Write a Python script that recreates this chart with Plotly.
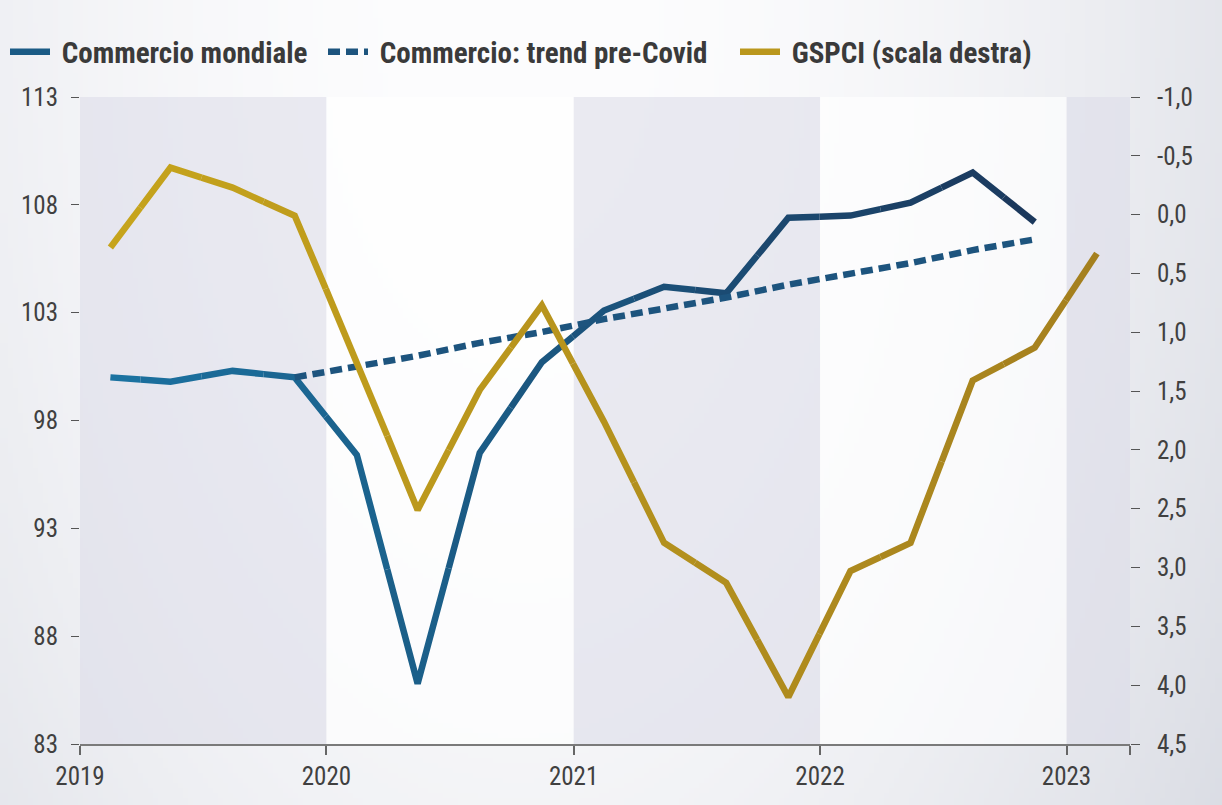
import base64
import struct
import zlib

import numpy as np
import pandas as pd
import plotly.graph_objects as go

# ---------------------------------------------------------------- data
quarters = ["2019-02-15", "2019-05-15", "2019-08-15", "2019-11-15",
            "2020-02-15", "2020-05-15", "2020-08-15", "2020-11-15",
            "2021-02-15", "2021-05-15", "2021-08-15", "2021-11-15",
            "2022-02-15", "2022-05-15", "2022-08-15", "2022-11-15",
            "2023-02-15"]

commercio_mondiale = [100.0, 99.8, 100.3, 100.0, 96.4, 85.8, 96.5, 100.7,
                      103.1, 104.2, 103.9, 107.4, 107.5, 108.1, 109.5, 107.2]

trend_dates = quarters[3:16]
trend_pre_covid = [100.0, 100.5, 101.0, 101.6, 102.1, 102.7, 103.2,
                   103.7, 104.3, 104.8, 105.3, 105.9, 106.4]

gspci = [0.28, -0.40, -0.23, 0.01, 1.25, 2.51, 1.49, 0.77, 1.76,
         2.79, 3.13, 4.10, 3.03, 2.79, 1.41, 1.13, 0.33]

series_names = ["Commercio mondiale", "Commercio: trend pre-Covid", "GSPCI (scala destra)"]

year_ticks = ["2019-01-01", "2020-01-01", "2021-01-01", "2022-01-01",
              "2023-01-01", "2023-04-05"]
year_labels = ["2019", "2020", "2021", "2022", "2023", ""]

left_ticks = [83, 88, 93, 98, 103, 108, 113]
right_ticks = [-1.0, -0.5, 0.0, 0.5, 1.0, 1.5, 2.0, 2.5, 3.0, 3.5, 4.0, 4.5]
right_labels = ["-1,0", "-0,5", "0,0", "0,5", "1,0", "1,5", "2,0", "2,5",
                "3,0", "3,5", "4,0", "4,5"]

shaded_years = [("2019-01-01", "2020-01-01"), ("2021-01-01", "2022-01-01"),
                ("2023-01-01", "2023-04-05")]
light_years = [("2020-01-01", "2021-01-01"), ("2022-01-01", "2023-01-01")]

# ---------------------------------------------------------------- styling
FONT = "Roboto Condensed, 'Liberation Sans Narrow', 'Arial Narrow', 'DejaVu Sans Condensed', sans-serif"
BLUE_START, BLUE_END = (27, 114, 160), (27, 56, 92)
GOLD_START, GOLD_END = (198, 164, 28), (165, 128, 30)
TREND_COLOR = "rgb(29,84,126)"
W, H = 1222, 805
M = dict(l=80, r=92, t=97, b=61)
LEGEND_LEFT = [5, 323, 735]   # left edge of each legend entry, px


def mix(c0, c1, t):
    return "rgb(%d,%d,%d)" % tuple(round(a + (b - a) * t) for a, b in zip(c0, c1))


def gradient_pieces(xs, ys, c0, c1):
    """Split a polyline into per-vertex pieces, each coloured by its x position."""
    ts = pd.to_datetime(pd.Series(xs))
    t0, t1 = ts.iloc[0], ts.iloc[-1]
    pieces = []
    n = len(ts)
    for i in range(n):
        px, py = [], []
        if i > 0:
            px.append(ts.iloc[i - 1] + (ts.iloc[i] - ts.iloc[i - 1]) / 2)
            py.append((ys[i - 1] + ys[i]) / 2)
        px.append(ts.iloc[i])
        py.append(ys[i])
        if i < n - 1:
            px.append(ts.iloc[i] + (ts.iloc[i + 1] - ts.iloc[i]) / 2)
            py.append((ys[i] + ys[i + 1]) / 2)
        frac = (ts.iloc[i] - t0) / (t1 - t0)
        pieces.append((px, py, mix(c0, c1, frac)))
    return pieces


def png_data_uri(arr):
    h, w, _ = arr.shape
    raw = b"".join(b"\x00" + arr[i].tobytes() for i in range(h))

    def chunk(tag, data):
        return (struct.pack(">I", len(data)) + tag + data
                + struct.pack(">I", zlib.crc32(tag + data) & 0xFFFFFFFF))

    png = (b"\x89PNG\r\n\x1a\n"
           + chunk(b"IHDR", struct.pack(">IIBBBBB", w, h, 8, 2, 0, 0, 0))
           + chunk(b"IDAT", zlib.compress(raw, 9))
           + chunk(b"IEND", b""))
    return "data:image/png;base64," + base64.b64encode(png).decode()


# soft grey backdrop, brightest near the upper middle
gx, gy = np.meshgrid(np.linspace(0, 1, 244), np.linspace(0, 1, 161))
shade = 70 * (gx - 0.425) ** 2 + 9 * gy ** 2
backdrop = np.stack([253 - shade * 1.05, 253 - shade * 0.98, 254 - shade * 0.78], axis=-1)
backdrop = np.clip(backdrop, 0, 255).astype(np.uint8)

pw = W - M["l"] - M["r"]
ph = H - M["t"] - M["b"]

fig = go.Figure()

# world trade, blue fading into navy
for k, (px, py, col) in enumerate(gradient_pieces(quarters[:16], commercio_mondiale, BLUE_START, BLUE_END)):
    fig.add_trace(go.Scatter(
        x=px, y=py, mode="lines", line=dict(color=col, width=6.5),
        name="\u00a0" + series_names[0], legend="legend", legendgroup="cm",
        showlegend=(k == 6), hoverinfo="skip"))

# pre-Covid trend
fig.add_trace(go.Scatter(
    x=trend_dates, y=trend_pre_covid, mode="lines",
    line=dict(color=TREND_COLOR, width=6.5, dash="12px,6px"),
    name="\u00a0" + series_names[1], legend="legend2"))

# supply-chain pressure index on the inverted right axis
for k, (px, py, col) in enumerate(gradient_pieces(quarters, gspci, GOLD_START, GOLD_END)):
    fig.add_trace(go.Scatter(
        x=px, y=py, yaxis="y2", mode="lines", line=dict(color=col, width=6.5),
        name="\u00a0" + series_names[2], legend="legend3", legendgroup="gs",
        showlegend=(k == 6), hoverinfo="skip"))

shapes = []
for x0, x1 in shaded_years:
    shapes.append(dict(type="rect", xref="x", yref="paper", x0=x0, x1=x1, y0=0, y1=1,
                       fillcolor="rgba(220,220,232,0.58)", line_width=0, layer="below"))
for x0, x1 in light_years:
    shapes.append(dict(type="rect", xref="x", yref="paper", x0=x0, x1=x1, y0=0, y1=1,
                       fillcolor="rgba(255,255,255,0.65)", line_width=0, layer="below"))

tick_font = dict(family=FONT, size=25, color="#404040")


def legend_box(left_px):
    return dict(orientation="h", xref="container", yref="container",
                x=left_px / W, y=1 - 52 / H, xanchor="left", yanchor="middle",
                bgcolor="rgba(0,0,0,0)",
                font=dict(family=FONT, size=29, color="#3a3a3a", weight="bold"),
                itemwidth=40)


fig.update_layout(
    width=W, height=H, autosize=False, margin=M,
    paper_bgcolor="white", plot_bgcolor="rgba(0,0,0,0)",
    font=dict(family=FONT, color="#404040"),
    images=[dict(source=png_data_uri(backdrop), xref="paper", yref="paper",
                 x=-M["l"] / pw, y=1 + M["t"] / ph, sizex=W / pw, sizey=H / ph,
                 xanchor="left", yanchor="top", sizing="stretch", layer="below")],
    shapes=shapes,
    showlegend=True,
    legend=legend_box(LEGEND_LEFT[0]),
    legend2=legend_box(LEGEND_LEFT[1]),
    legend3=legend_box(LEGEND_LEFT[2]),
    xaxis=dict(type="date", range=["2019-01-01", "2023-04-05"],
               tickvals=year_ticks, ticktext=year_labels,
               ticks="outside", ticklen=9, tickwidth=1.5, tickcolor="#666",
               showline=True, linecolor="#7a7a7a", linewidth=2,
               showgrid=False, zeroline=False, tickfont=tick_font,
               automargin=False),
    yaxis=dict(range=[83, 113], tickvals=left_ticks, ticks="outside",
               ticklen=8, tickwidth=1.2, tickcolor="#555",
               showline=False, showgrid=False, zeroline=False,
               tickfont=tick_font, ticklabelstandoff=8, automargin=False),
    yaxis2=dict(range=[4.5, -1.0], overlaying="y", side="right",
                tickvals=right_ticks, ticktext=right_labels, ticks="outside",
                ticklen=9, tickwidth=1.2, tickcolor="#555",
                showline=False, showgrid=False, zeroline=False,
                tickfont=tick_font, ticklabelstandoff=12, automargin=False),
)

fig.write_html("out.html")
